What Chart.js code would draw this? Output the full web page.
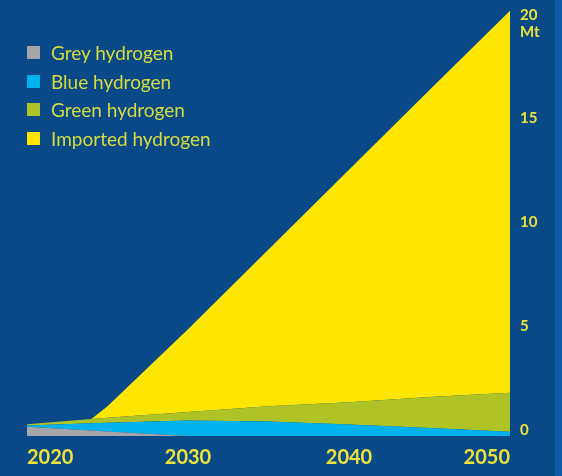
<!DOCTYPE html>
<html>
<head>
<meta charset="utf-8">
<script src="https://cdn.jsdelivr.net/npm/chart.js@4.4.1/dist/chart.umd.min.js"></script>
<style>
  html, body { margin: 0; padding: 0; background: #0a4988; }
  #wrap { position: relative; width: 562px; height: 476px; background: #0a4988; box-shadow: inset -7px 0 0 #0f5aa6; }
  #wrap canvas { position: absolute; left: 0; top: 0; }
  #legend { position: absolute; left: 27px; top: 38px; margin: 0; padding: 0; list-style: none;
            font-family: Lato, sans-serif; font-size: 19px; color: #d6dc3e; }
  #legend li { height: 28.7px; display: flex; align-items: center; }
  #legend span { display: inline-block; width: 13px; height: 13px; margin-right: 11px; }
</style>
</head>
<body>
<div id="wrap">
  <canvas id="grafico_hidrogenio" width="562" height="476"></canvas>
  <ul id="legend"></ul>
</div>
<script>
// Mt per year, stacked bottom to top
const years = [2020, 2024, 2025, 2030, 2035, 2040, 2045, 2050];
const grey = [0.45, 0.27, 0.22, 0, 0, 0, 0, 0];
const blue = [0.06, 0.35, 0.42, 0.75, 0.70, 0.55, 0.38, 0.20];
const green = [0.05, 0.20, 0.24, 0.40, 0.73, 1.08, 1.50, 1.88];
const imported = [0, 0, 0.55, 3.99, 7.55, 11.19, 14.78, 18.40];

const xTicks = [2020, 2030, 2040, 2050];
const yTicks = [0, 5, 10, 15, 20];

const tickColor = '#ede23a';

function serie(values) {
  return values.map(function(v, i) {
    return { x: years[i], y: v };
  });
}

const ctx = document.getElementById('grafico_hidrogenio').getContext('2d');

const chart = new Chart(ctx, {
  type: 'line',
  data: {
    datasets: [
      { label: 'Grey hydrogen', data: serie(grey), backgroundColor: '#a6a5a9', fill: 'origin' },
      { label: 'Blue hydrogen', data: serie(blue), backgroundColor: '#00b3ec', fill: '-1' },
      { label: 'Green hydrogen', data: serie(green), backgroundColor: '#afc326', fill: '-1' },
      { label: 'Imported hydrogen', data: serie(imported), backgroundColor: '#ffe600', fill: '-1' },
    ],
  },
  options: {
    responsive: false,
    animation: false,
    layout: { padding: { left: 27 } },
    elements: {
      point: { radius: 0 },
      line: { borderWidth: 0, tension: 0 },
    },
    plugins: {
      legend: { display: false },
      tooltip: { enabled: false },
    },
    scales: {
      x: {
        type: 'linear',
        min: 2020,
        max: 2050,
        grid: { display: false, drawTicks: false },
        border: { display: false },
        ticks: {
          align: 'inner',
          padding: 10,
          color: tickColor,
          font: { family: 'Lato', size: 20, weight: 'bold' },
          callback: function(v) { return String(v); },
        },
        afterBuildTicks: function(scale) {
          scale.ticks = xTicks.map(function(v) { return { value: v }; });
        },
        afterFit: function(scale) {
          scale.height = 40;
          scale.paddingLeft = 0;
          scale.paddingRight = 0;
        },
      },
      y: {
        position: 'right',
        stacked: true,
        min: 0,
        max: 21,
        grid: { display: false, drawTicks: false },
        border: { display: false },
        ticks: {
          padding: 10,
          labelOffset: 2.5,
          color: tickColor,
          font: { family: 'Lato', size: 15, weight: 'bold', lineHeight: 17 / 15 },
          // unit sits under the top value
          callback: function(v) { return [String(v), v === 20 ? 'Mt' : '']; },
        },
        afterBuildTicks: function(scale) {
          scale.ticks = yTicks.map(function(v) { return { value: v }; });
        },
        afterFit: function(scale) {
          scale.width = 52;
          scale.paddingTop = 0;
          scale.paddingBottom = 0;
        },
      },
    },
  },
});

// legend list built from the datasets
const legend = document.getElementById('legend');
chart.data.datasets.forEach(function(ds) {
  const li = document.createElement('li');
  const box = document.createElement('span');
  box.style.background = ds.backgroundColor;
  li.appendChild(box);
  li.appendChild(document.createTextNode(ds.label));
  legend.appendChild(li);
});
</script>
</body>
</html>
